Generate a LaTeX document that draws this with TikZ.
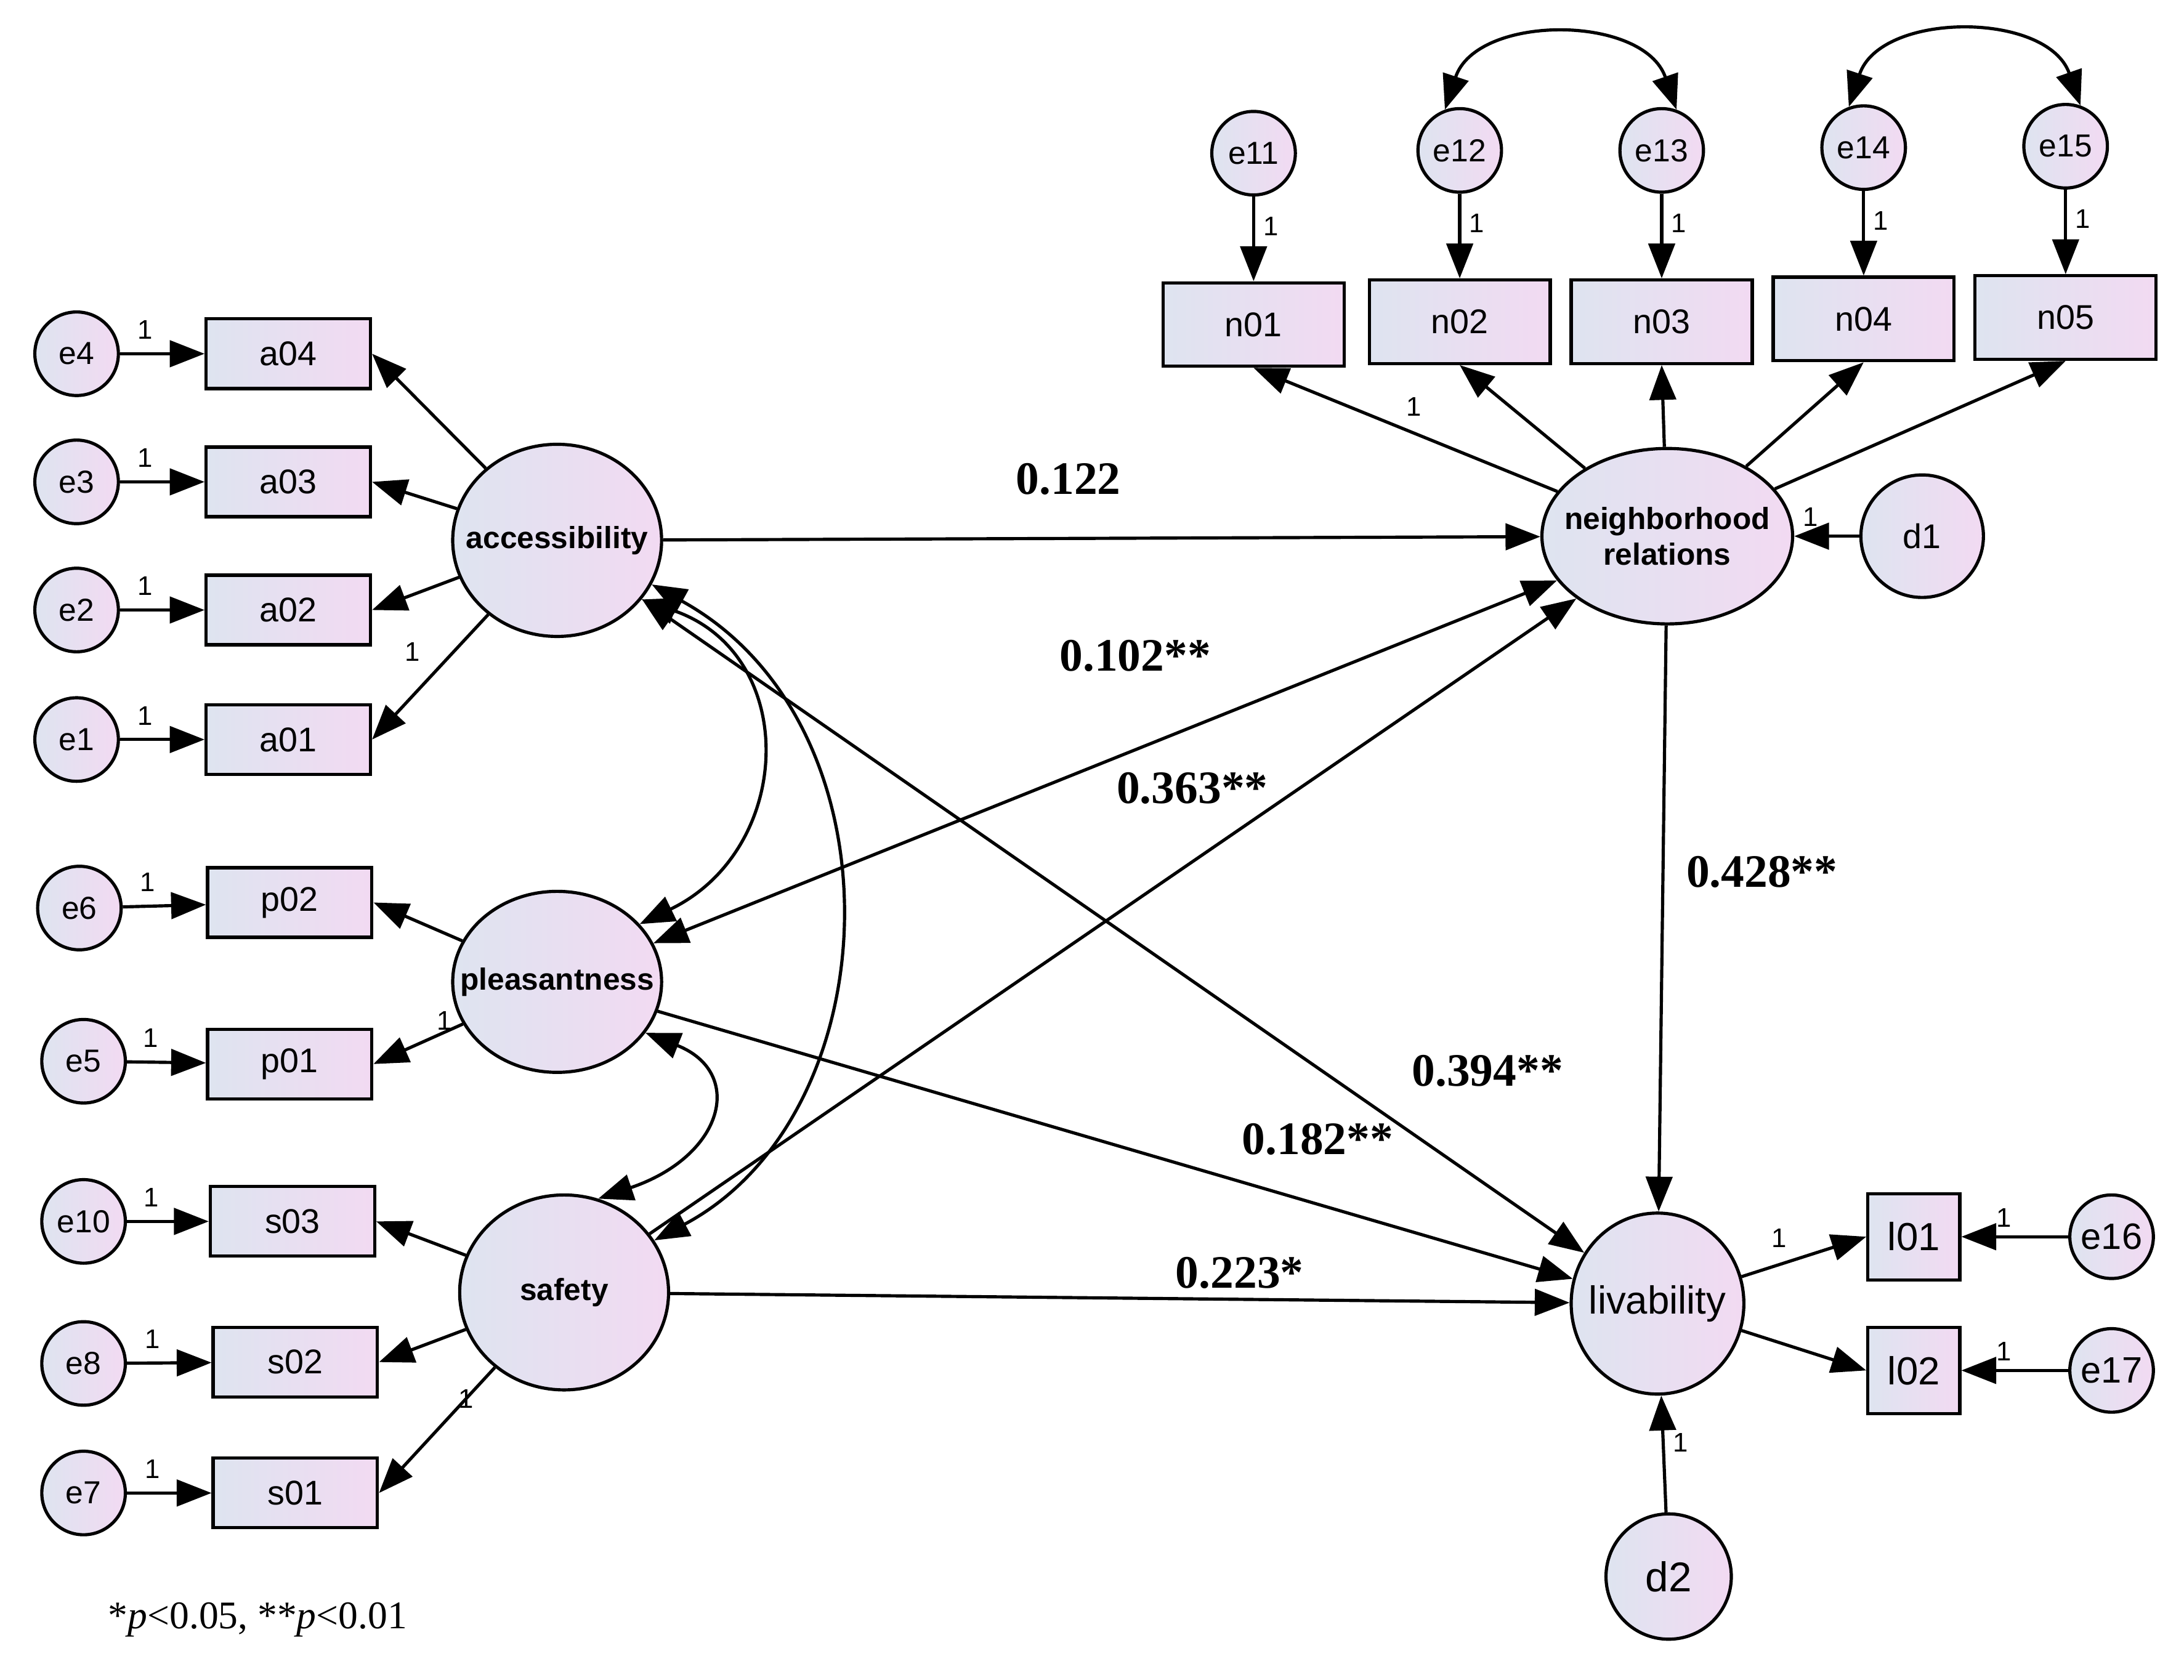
\documentclass[tikz,border=0pt]{standalone}
\usepackage{fontspec}
\setmainfont{Liberation Sans}
\newfontfamily\tnr{Liberation Serif}
\usetikzlibrary{arrows.meta,shapes.geometric}
\begin{document}
\begin{tikzpicture}[x=0.02cm,y=-0.02cm,
 fillc/.style={left color=lavb, right color=lavp},
 lat/.style={ellipse,draw,line width=1.3pt,fillc,inner sep=0pt,font=\bfseries\fontsize{12.5}{14}\selectfont,align=center},
 err/.style={circle,draw,line width=1.3pt,fillc,minimum size=1.2cm,inner sep=0pt,font=\fontsize{13}{14}\selectfont},
 obs/.style={rectangle,draw,line width=1.3pt,fillc,minimum width=2.36cm,minimum height=1cm,font=\fontsize{14}{15}\selectfont},
 arr/.style={line width=1.3pt,-{Triangle[length=0.5cm,width=0.38cm]}},
 darr/.style={line width=1.3pt,{Triangle[length=0.5cm,width=0.38cm]}-{Triangle[length=0.5cm,width=0.38cm]}},
 one/.style={font=\fontsize{11}{12}\selectfont},
 coef/.style={font=\tnr\bfseries\fontsize{19}{21}\selectfont}]
\definecolor{lavb}{RGB}{222,228,240}
\definecolor{lavp}{RGB}{242,218,242}
\useasboundingbox (0,0) rectangle (1568,1206);
% left side
\foreach \e/\o/\y in {e4/a04/254,e3/a03/346,e2/a02/438,e1/a01/531}{
 \node[err] (\e) at (55,\y) {\e};
 \node[obs] (\o) at (207,\y) {\o};
 \draw[arr] (\e) -- (\o) node[one,pos=0.3,above,yshift=2pt] {1};}
\node[err] (e6) at (57,652) {e6}; \node[obs] (p02) at (208,648) {p02};
\node[err] (e5) at (60,762) {e5}; \node[obs] (p01) at (208,764) {p01};
\node[err] (e10) at (60,877) {e10}; \node[obs] (s03) at (210,877) {s03};
\node[err] (e8) at (60,979) {e8}; \node[obs] (s02) at (212,978) {s02};
\node[err] (e7) at (60,1072) {e7}; \node[obs] (s01) at (212,1072) {s01};
\foreach \e/\o in {e6/p02,e5/p01,e10/s03,e8/s02,e7/s01}
 \draw[arr] (\e) -- (\o) node[one,pos=0.3,above,yshift=2pt] {1};
\node[lat,minimum width=3cm,minimum height=2.76cm] (acc) at (400,388) {\makebox[0pt]{accessibility}};
\node[lat,minimum width=3cm,minimum height=2.6cm] (ple) at (400,705) {\makebox[0pt]{pleasantness}};
\node[lat,minimum width=3cm,minimum height=2.8cm] (saf) at (405,928) {\makebox[0pt]{safety}};
\foreach \o in {a04,a03,a02,a01} \draw[arr] (acc) -- (\o.east);
\node[one] at (296,468) {1};
\draw[arr] (ple) -- (p02.east);
\draw[arr] (ple) -- (p01.east) node[one,pos=0.4,above right] {1};
\draw[arr] (saf) -- (s03.east);
\draw[arr] (saf) -- (s02.east);
\draw[arr] (saf) -- (s01.east) node[one,pos=0.4,above right] {1};
% top
\node[lat,minimum width=3.6cm,minimum height=2.52cm] (nei) at (1197,385) {\makebox[0pt]{\shortstack{neighborhood\\relations}}};
\node[err,minimum size=1.76cm,font=\fontsize{14}{15}\selectfont] (d1) at (1380,385) {d1};
\draw[arr] (d1) -- (nei) node[one,pos=0.75,above] {1};
\foreach \e/\o/\x/\ye/\yo in {e11/n01/900/110/233,e12/n02/1048/108/231,e13/n03/1193/108/231,e14/n04/1338/106/229,e15/n05/1483/105/228}{
 \node[err] (\e) at (\x,\ye) {\e};
 \node[obs,minimum width=2.6cm,minimum height=1.2cm] (\o) at (\x,\yo) {\o};
 \draw[arr] (\e) -- (\o) node[one,pos=0.35,right] {1};
 \draw[arr] (nei) -- (\o.south);}
\node[one] at (1015,292) {1};
\draw[darr] (e12.110) .. controls (1060,10) and (1180,10) .. (e13.70);
\draw[darr] (e14.110) .. controls (1350,8) and (1470,8) .. (e15.70);
% bottom right
\node[lat,minimum width=2.48cm,minimum height=2.6cm,font=\fontsize{16}{17}\selectfont] (liv) at (1190,936) {\makebox[0pt]{livability}};
\node[err,minimum size=1.8cm,font=\fontsize{17}{18}\selectfont] (d2) at (1198,1132) {d2};
\draw[arr] (d2) -- (liv) node[one,pos=0.6,right] {1};
\node[obs,minimum width=1.32cm,minimum height=1.24cm,font=\fontsize{16}{17}\selectfont] (l01) at (1374,888) {l01};
\node[obs,minimum width=1.32cm,minimum height=1.24cm,font=\fontsize{16}{17}\selectfont] (l02) at (1374,984) {l02};
\node[err,font=\fontsize{15}{16}\selectfont] (e16) at (1516,888) {e16};
\node[err,font=\fontsize{15}{16}\selectfont] (e17) at (1516,984) {e17};
\draw[arr] (e16) -- (l01) node[one,pos=0.6,above] {1};
\draw[arr] (e17) -- (l02) node[one,pos=0.6,above] {1};
\draw[arr] (liv) -- (l01.west) node[one,pos=0.3,above,yshift=3pt] {1};
\draw[arr] (liv) -- (l02.west);
% structural paths
\draw[arr] (acc) -- (nei);
\draw[darr] (ple) -- (nei);
\draw[arr] (saf) -- (nei);
\draw[darr] (acc) -- (liv);
\draw[arr] (ple) -- (liv);
\draw[arr] (saf) -- (liv);
\draw[arr] (nei) -- (liv);
% covariances
\draw[darr] (acc.-35) .. controls (575,470) and (570,610) .. (ple.35);
\draw[darr] (acc.-25) .. controls (650,520) and (640,800) .. (saf.30);
\draw[darr] (ple.-30) .. controls (535,770) and (520,830) .. (saf.70);
% coefficients
\node[coef] at (767,344) {0.122};
\node[coef] at (815,471) {0.102**};
\node[coef] at (856,566) {0.363**};
\node[coef] at (1265,626) {0.428**};
\node[coef] at (1068,769) {0.394**};
\node[coef] at (946,818) {0.182**};
\node[coef] at (890,914) {0.223*};
\node[font=\tnr\fontsize{16}{18}\selectfont] at (185,1163) {*\textit{p}<0.05, **\textit{p}<0.01};
\end{tikzpicture}
\end{document}
